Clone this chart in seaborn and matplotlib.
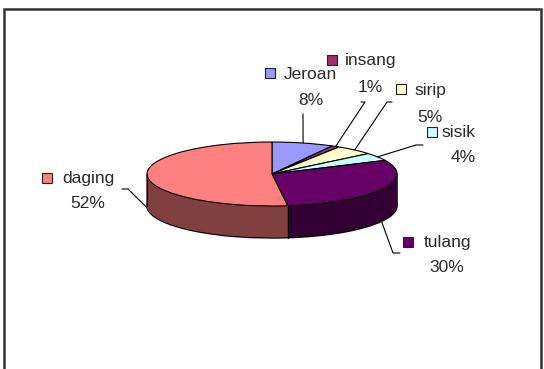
import numpy as np
import matplotlib
matplotlib.use("Agg")
import matplotlib.pyplot as plt
from matplotlib.patches import Rectangle
import seaborn as sns

# ---- data ----
labels = ["Jeroan", "insang", "sirip", "sisik", "tulang", "daging"]
values = [8, 1, 5, 4, 30, 52]
pct_labels = ["8%", "1%", "5%", "4%", "30%", "52%"]
colors = ["#9999FF", "#993366", "#FFFFCC", "#CCFFFF", "#660066", "#FF8080"]
side_colors = ["#4D4D80", "#4D1A33", "#808066", "#668080", "#330033", "#804040"]

sns.set_theme(style="white")
plt.rcParams["font.family"] = ["Liberation Sans", "DejaVu Sans"]

W, H = 544, 369
fig = plt.figure(figsize=(W / 100, H / 100), dpi=100)
fig.patch.set_facecolor("white")

# pie geometry (pixels)
cx, cy = 272, 174      # centre of top face
R, ry = 125, 32        # horizontal radius, vertical half-height
depth = 32
s = R / ry             # vertical squash factor

ax = fig.add_axes([0, 0, 1, 1])

def ydata(py):
    return (H - py) * s

# side wall: stacked darker pies
for d in range(depth, 0, -1):
    wedges, _ = ax.pie(values, colors=side_colors, startangle=90, counterclock=False,
                       radius=R, center=(cx, ydata(cy + d)))
    for w in wedges:
        if d == depth:
            w.set_edgecolor("black")
            w.set_linewidth(1.0)
        else:
            w.set_edgecolor(w.get_facecolor())
            w.set_linewidth(0.6)

# vertical edges of the side wall
cum = np.cumsum(values) / np.sum(values) * 360.0
edges = list(cum) + [90.0, 270.0]
for th in edges:
    t = np.deg2rad(th)
    if np.cos(t) <= 0:
        x = cx + R * np.sin(t)
        ytop = cy - ry * np.cos(t)
        ax.plot([x, x], [ydata(ytop), ydata(ytop + depth)], color="black", lw=0.9, zorder=5)

# top face
ax.pie(values, colors=colors, startangle=90, counterclock=False, radius=R,
       center=(cx, ydata(cy)), wedgeprops=dict(edgecolor="black", linewidth=0.8))

ax.set_aspect("auto")
ax.set_xlim(0, W)
ax.set_ylim(0, H * s)
ax.axis("off")

# ---- overlay in pixel coordinates ----
tax = fig.add_axes([0, 0, 1, 1])
tax.set_xlim(0, W)
tax.set_ylim(H, 0)
tax.axis("off")
tax.patch.set_visible(False)

# border
tax.plot([3.5, 3.5, 540.5, 540.5], [H + 5, 8.5, 8.5, H + 5], color="#333333", lw=1.8,
         solid_joinstyle="miter", clip_on=False)

# label layout: name centre x, name baseline, pct centre x, pct baseline, key left, key top
layout = {
    "Jeroan": (310, 79, 311, 105, 265, 68),
    "insang": (371, 65, 370, 92, 327, 55),
    "sirip":  (430, 95, 430, 122, 396, 84),
    "sisik":  (458, 137, 463, 162, 427, 127),
    "tulang": (448, 247, 447, 272, 403, 237),
    "daging": (88, 183, 88, 208, 42, 173),
}
# leader line anchor points near label
anchors = {
    "Jeroan": [(303, 114)],
    "insang": [(361, 102), (365, 102)],
    "sirip":  [(392, 102), (387, 102)],
    "sisik":  [(423, 145), (416, 145)],
    "tulang": [(400, 253), (393, 253)],
    "daging": [(122, 189), (128, 189)],
}

fs = 12.5
starts = np.concatenate([[0], cum[:-1]])
for lab, val, pct, col, st, en in zip(labels, values, pct_labels, colors, starts, cum):
    nx, nb, px, pb, kx, ky = layout[lab]
    tax.text(nx, nb, lab, ha="center", va="baseline", fontsize=fs, color="#2a2a2a")
    tax.text(px, pb, pct, ha="center", va="baseline", fontsize=fs, color="#2a2a2a")
    tax.add_patch(Rectangle((kx, ky), 10, 10, facecolor=col, edgecolor="#222222", lw=0.8))
    mid = np.deg2rad((st + en) / 2)
    rx = cx + R * np.sin(mid)
    rim_y = cy - ry * np.cos(mid)
    if np.cos(mid) < 0:
        rim_y += depth
    pts = anchors[lab] + [(rx, rim_y)]
    tax.plot([p[0] for p in pts], [p[1] for p in pts], color="black", lw=0.8)

fig.savefig("out.png", dpi=100)
